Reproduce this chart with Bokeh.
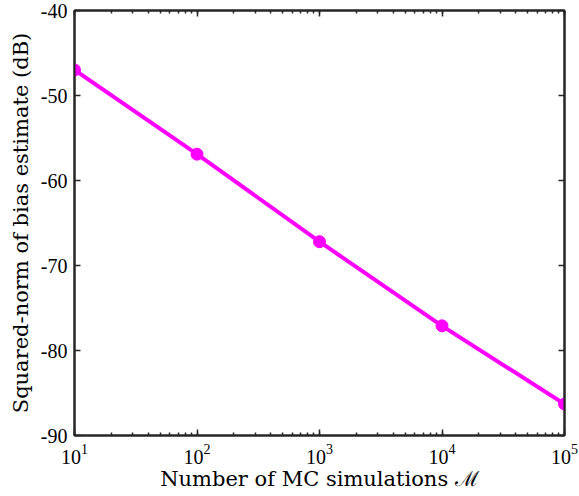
from bokeh.plotting import figure
from bokeh.models import Range1d, LogAxis, LinearAxis, FixedTicker, LogTicker
from bokeh.embed import file_html
from bokeh.resources import INLINE

n_sims = [10, 100, 1000, 10000, 100000]
bias_db = [-47.0, -56.9, -67.2, -77.1, -86.3]
y_ticks = [-90, -80, -70, -60, -50, -40]
y_tick_labels = {-90: "-90", -80: "-80", -70: "-70", -60: "-60", -50: "-50", -40: "-40"}

FONT = "Liberation Serif"
LABEL_FONT = "DejaVu Serif"
AX = "#262626"

p = figure(width=579, height=496, x_axis_type="log",
           x_range=Range1d(10, 100000), y_range=Range1d(-90, -40),
           output_backend="svg", toolbar_location=None,
           min_border_left=74, min_border_right=15, min_border_top=10, min_border_bottom=61)
p.xgrid.visible = False
p.ygrid.visible = False
p.outline_line_color = AX
p.outline_line_width = 2
p.background_fill_color = "white"
p.border_fill_color = "white"

p.line(n_sims, bias_db, line_color="#FF00FF", line_width=4)
p.scatter(n_sims, bias_db, size=12, fill_color="#FF00FF", line_color="#FF00FF")

def style(ax, labels=True):
    ax.axis_line_color = AX
    ax.axis_line_width = 2
    ax.major_tick_line_color = AX
    ax.major_tick_line_width = 1.5
    ax.major_tick_in = 6
    ax.major_tick_out = 0
    ax.minor_tick_line_color = AX
    ax.minor_tick_line_width = 1.5
    ax.minor_tick_in = 3
    ax.minor_tick_out = 0
    ax.major_label_text_font = FONT
    ax.major_label_text_font_size = "20px"
    ax.major_label_text_color = "#000000" if labels else None
    ax.axis_label_text_font = LABEL_FONT
    ax.axis_label_text_font_size = "21px"
    ax.axis_label_text_font_style = "normal"
    ax.axis_label_text_color = "#000000"

xa = p.xaxis[0]
xa.ticker = LogTicker(desired_num_ticks=5, num_minor_ticks=10)
xa.axis_label = "Number of MC simulations ℳ"
xa.major_label_standoff = 8
xa.axis_label_standoff = 0
style(xa)

ya = p.yaxis[0]
ya.ticker = FixedTicker(ticks=y_ticks)
ya.major_label_overrides = y_tick_labels
ya.axis_label = "Squared-norm of bias estimate (dB)"
ya.major_label_standoff = 7
ya.axis_label_standoff = 5
style(ya)
ya.minor_tick_line_color = None

top = LogAxis(ticker=LogTicker(desired_num_ticks=5, num_minor_ticks=10))
style(top, labels=False)
top.major_label_text_font_size = "0px"
top.major_label_standoff = 0
p.add_layout(top, "above")

right = LinearAxis(ticker=FixedTicker(ticks=y_ticks))
style(right, labels=False)
right.major_label_text_font_size = "0px"
right.major_label_standoff = 0
right.minor_tick_line_color = None
p.add_layout(right, "right")

open("out.html", "w").write(file_html(p, INLINE))
